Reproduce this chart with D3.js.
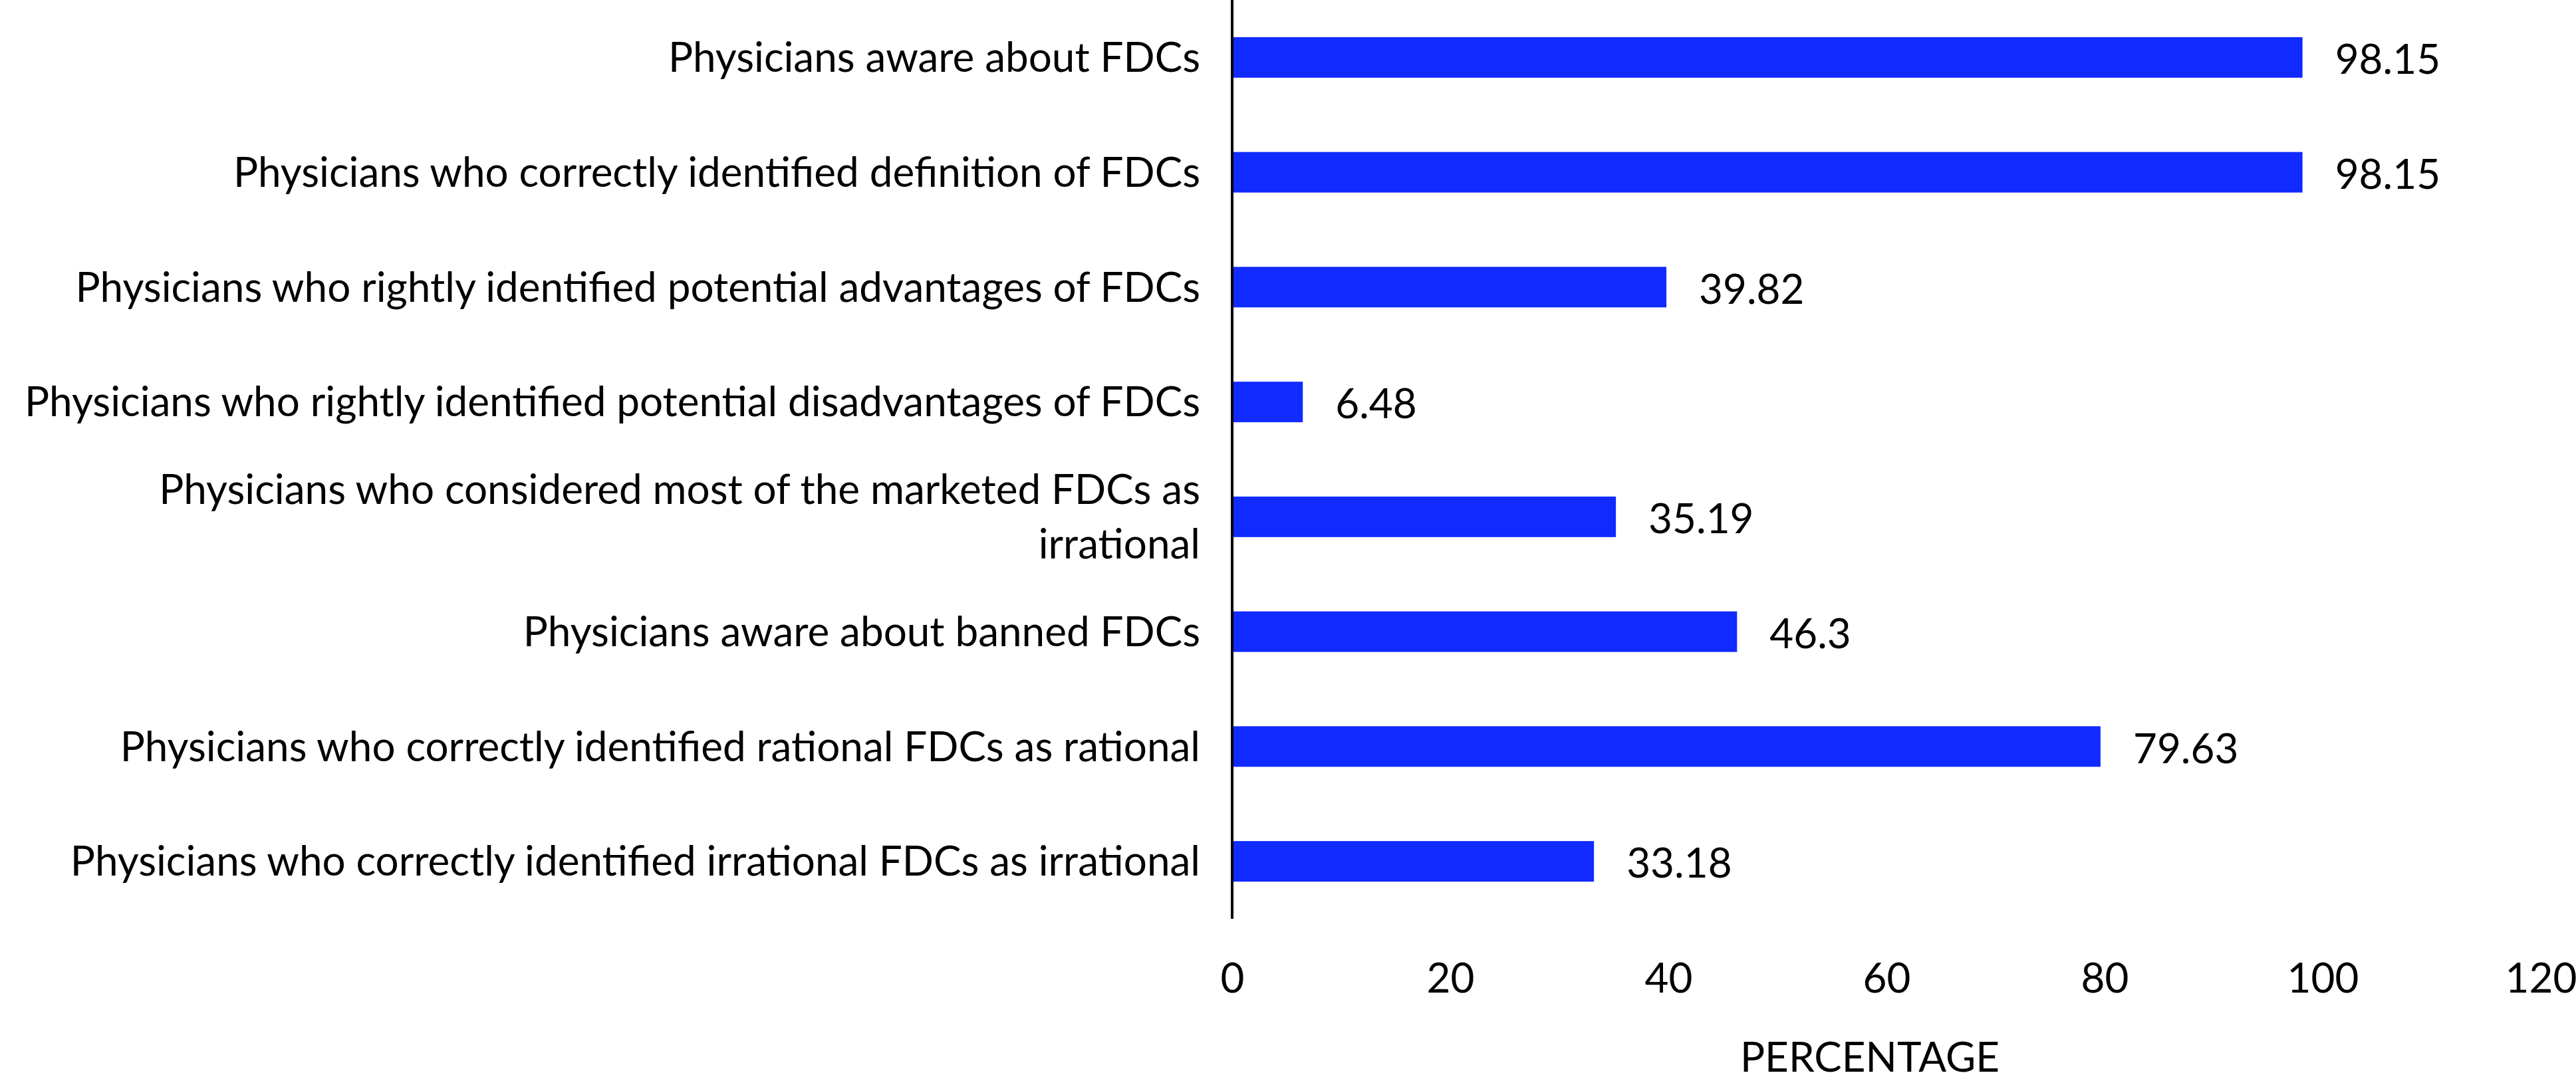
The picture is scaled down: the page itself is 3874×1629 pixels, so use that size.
<!DOCTYPE html>
<html lang="en">
<head>
  <meta charset="UTF-8">
  <title>FDC awareness among physicians</title>
  <script src="https://cdn.jsdelivr.net/npm/d3@7"></script>
  <style>
    body { margin: 0; background: #fff; }
    svg { display: block; font-family: Lato, sans-serif; }
  </style>
</head>
<body>
  <script>
    // categories, top to bottom
    const categories = [
      "Physicians aware about FDCs",
      "Physicians who correctly identified definition of FDCs",
      "Physicians who rightly identified potential advantages of FDCs",
      "Physicians who rightly identified potential disadvantages of FDCs",
      "Physicians who considered most of the marketed FDCs as irrational",
      "Physicians aware about banned FDCs",
      "Physicians who correctly identified rational FDCs as rational",
      "Physicians who correctly identified irrational FDCs as irrational"
    ];
    const values = [98.15, 98.15, 39.82, 6.48, 35.19, 46.3, 79.63, 33.18];
    const xTicks = [0, 20, 40, 60, 80, 100, 120];
    const xTitle = "PERCENTAGE";

    const width = 3874, height = 1629;
    const x0 = 1853, x1 = 3821, plotBottom = 1382;
    const fontSize = 62;

    const svg = d3.select("body").append("svg")
        .attr("width", width)
        .attr("height", height);

    const x = d3.scaleLinear().domain([0, 120]).range([x0, x1]);
    const y = d3.scaleBand().domain(categories).range([0, plotBottom])
        .paddingInner(0.647).paddingOuter(0.3235);

    // bars
    svg.append("g")
      .selectAll("rect")
      .data(categories)
      .join("rect")
        .attr("x", x(0))
        .attr("y", d => y(d))
        .attr("width", (d, i) => x(values[i]) - x(0))
        .attr("height", y.bandwidth())
        .attr("fill", "#102aff");

    // value labels
    svg.append("g")
        .attr("font-size", fontSize)
      .selectAll("text")
      .data(categories)
      .join("text")
        .attr("x", (d, i) => x(values[i]) + 49)
        .attr("y", d => y(d) + y.bandwidth() / 2)
        .attr("dy", "0.4em")
        .attr("fill", "#000")
        .text((d, i) => values[i]);

    // y axis: line + category labels
    const yAxis = svg.append("g")
        .attr("transform", `translate(${x0},0)`)
        .call(d3.axisLeft(y).tickSize(0).tickPadding(48));
    yAxis.select(".domain").attr("stroke", "#000").attr("stroke-width", 4)
        .attr("d", `M0,0V${plotBottom}`);
    yAxis.selectAll("text")
        .attr("font-size", fontSize)
        .attr("font-family", "Lato, sans-serif")
        .attr("fill", "#000")
        .call(wrap, 1790);

    // x axis: tick labels only
    const xAxis = svg.append("g")
        .attr("transform", `translate(0,${plotBottom})`)
        .call(d3.axisBottom(x).tickValues(xTicks).tickSize(0).tickPadding(67));
    xAxis.select(".domain").remove();
    xAxis.selectAll("text")
        .attr("font-size", fontSize)
        .attr("font-family", "Lato, sans-serif")
        .attr("fill", "#000");

    svg.append("text")
        .attr("x", 2812)
        .attr("y", 1612)
        .attr("text-anchor", "middle")
        .attr("font-size", fontSize)
        .attr("fill", "#000")
        .text(xTitle);

    function wrap(texts, maxWidth) {
      texts.each(function() {
        const t = d3.select(this);
        const words = t.text().split(/\s+/);
        const xPos = t.attr("x");
        t.text(null);
        let lines = [[]];
        const probe = t.append("tspan");
        for (const w of words) {
          const cur = lines[lines.length - 1];
          probe.text([...cur, w].join(" "));
          if (cur.length && probe.node().getComputedTextLength() > maxWidth) lines.push([w]);
          else cur.push(w);
        }
        probe.remove();
        const lh = 1.31;
        const first = 0.35 - (lines.length - 1) * lh / 2;
        lines.forEach((l, i) => {
          t.append("tspan")
              .attr("x", xPos)
              .attr("dy", (i === 0 ? first : lh) + "em")
              .text(l.join(" "));
        });
        t.attr("dy", null);
      });
    }
  </script>
</body>
</html>
